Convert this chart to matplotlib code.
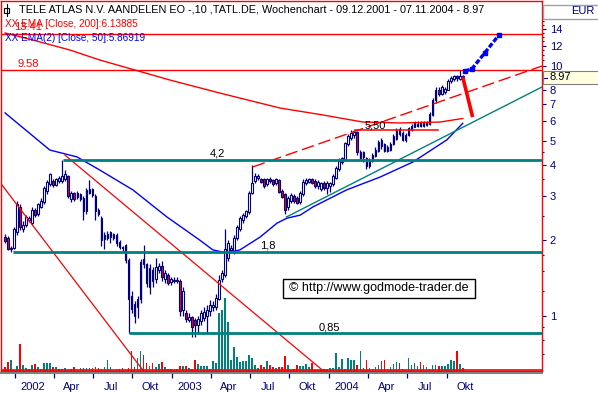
import matplotlib
matplotlib.use('Agg')
import matplotlib.pyplot as plt
import matplotlib.dates as mdates
from matplotlib import font_manager
from matplotlib.ticker import FixedLocator, NullFormatter, FuncFormatter
from matplotlib.patches import Rectangle
from matplotlib.lines import Line2D
import numpy as np
import pandas as pd

plt.rcParams['font.family'] = ['Liberation Sans', 'DejaVu Sans']

# ---------------- data ----------------
start_date = '2001-12-09'
opens = [2.07, 2.05, 1.84, 1.86, 2.15, 2.72, 2.22, 2.30, 2.40, 2.35,
         2.65, 2.54, 2.72, 2.85, 3.15, 3.35, 3.45, 3.34, 3.45, 3.45,
         3.50, 3.60, 2.92, 3.08, 3.10, 2.92, 2.95, 2.62, 3.10, 3.20,
         3.00, 2.65, 2.45, 2.02, 2.05, 2.07, 2.04, 2.10, 1.97, 1.88,
         1.92, 1.67, 1.20, 1.11, 1.08, 1.16, 1.68, 1.60, 1.30, 1.52,
         1.40, 1.52, 1.58, 1.40, 1.45, 1.36, 1.39, 1.37, 1.38, 1.05,
         1.02, 0.96, 0.99, 0.96, 0.92, 0.95, 0.98, 1.00, 1.04, 1.08,
         1.08, 1.16, 1.40, 1.45, 1.70, 1.82, 1.80, 2.05, 2.22, 2.40,
         2.50, 2.60, 3.10, 3.45, 3.55, 3.50, 3.50, 3.35, 3.52, 3.48,
         3.38, 3.48, 3.15, 3.05, 2.72, 2.88, 3.00, 2.95, 2.85, 3.05,
         3.38, 3.42, 3.50, 3.45, 3.30, 3.22, 3.40, 3.25, 3.30, 3.35,
         3.55, 3.85, 4.10, 4.20, 4.85, 5.15, 5.25, 5.40, 4.25, 4.50,
         4.25, 3.95, 4.15, 4.35, 4.55, 5.05, 4.85, 4.55, 4.60, 4.85,
         5.10, 5.55, 5.35, 5.05, 5.25, 5.55, 5.70, 5.75, 5.90, 5.75,
         5.80, 5.85, 6.35, 7.25, 8.00, 7.70, 7.80, 8.00, 8.65, 8.80,
         9.10, 8.85, 9.05]
highs = [2.12, 2.08, 1.90, 2.25, 2.86, 2.78, 2.38, 2.52, 2.50, 2.72,
         2.70, 2.82, 2.95, 3.30, 3.48, 3.72, 3.50, 3.55, 3.62, 4.20,
         3.82, 3.65, 3.15, 3.12, 3.14, 3.10, 3.00, 3.25, 3.48, 3.25,
         3.05, 2.70, 2.50, 2.15, 2.18, 2.18, 2.14, 2.13, 2.00, 1.90,
         1.94, 1.70, 1.25, 1.14, 1.20, 1.68, 1.92, 1.62, 1.60, 1.56,
         1.70, 1.62, 1.65, 1.52, 1.48, 1.43, 1.42, 1.42, 1.40, 1.30,
         1.05, 1.02, 1.00, 0.98, 1.00, 1.05, 1.08, 1.10, 1.15, 1.14,
         1.22, 1.45, 1.52, 2.21, 2.00, 1.92, 2.10, 2.30, 2.50, 2.58,
         2.65, 3.15, 4.00, 3.70, 3.68, 3.55, 3.55, 3.55, 3.58, 3.52,
         3.55, 3.52, 3.20, 3.10, 3.00, 3.08, 3.05, 3.00, 3.15, 3.50,
         3.55, 3.56, 3.55, 3.50, 3.48, 3.42, 3.45, 3.45, 3.42, 3.68,
         3.98, 4.25, 4.30, 4.95, 5.30, 5.50, 5.50, 5.45, 4.60, 4.55,
         4.30, 4.25, 4.45, 4.70, 5.05, 5.15, 4.90, 4.80, 4.95, 5.30,
         5.60, 5.65, 5.45, 5.35, 5.70, 5.85, 6.00, 6.00, 6.00, 5.98,
         6.00, 6.50, 7.40, 8.20, 8.20, 8.35, 8.20, 8.85, 9.05, 9.15,
         9.20, 9.60, 9.20]
lows = [1.95, 1.82, 1.80, 1.84, 2.10, 2.20, 2.15, 2.26, 2.36, 2.30,
        2.48, 2.50, 2.68, 2.80, 3.05, 3.30, 3.28, 3.30, 3.40, 3.40,
        3.45, 2.95, 2.85, 2.88, 2.92, 2.88, 2.40, 2.55, 3.05, 2.98,
        2.40, 2.50, 1.90, 1.85, 2.00, 1.95, 2.00, 1.90, 1.85, 1.80,
        1.62, 0.85, 1.02, 0.93, 0.98, 1.12, 1.55, 1.30, 1.22, 1.30,
        1.35, 1.48, 1.38, 1.35, 1.32, 1.33, 1.35, 1.35, 1.00, 1.00,
        0.94, 0.94, 0.82, 0.82, 0.85, 0.92, 0.95, 0.85, 1.00, 1.04,
        1.05, 1.15, 1.36, 1.42, 1.65, 1.78, 1.76, 2.00, 2.18, 2.35,
        2.45, 2.55, 3.05, 3.40, 3.48, 3.38, 3.25, 3.30, 3.40, 3.30,
        3.32, 3.08, 2.95, 2.55, 2.65, 2.82, 2.82, 2.78, 2.80, 3.00,
        3.32, 3.38, 3.35, 3.25, 3.22, 3.15, 3.18, 3.05, 3.12, 3.30,
        3.50, 3.80, 4.05, 4.15, 4.75, 5.05, 5.15, 4.40, 4.20, 4.10,
        3.85, 3.90, 4.10, 4.30, 4.50, 4.65, 4.50, 4.50, 4.55, 4.80,
        5.05, 5.20, 5.00, 4.95, 5.20, 5.45, 5.65, 5.70, 5.70, 5.68,
        5.72, 5.80, 6.30, 7.10, 7.55, 7.60, 7.70, 7.95, 8.55, 8.70,
        8.70, 8.75, 8.80]
closes = [1.98, 1.84, 1.87, 2.21, 2.80, 2.25, 2.30, 2.47, 2.46, 2.65,
          2.52, 2.78, 2.88, 3.25, 3.42, 3.67, 3.32, 3.50, 3.55, 3.60,
          3.67, 3.00, 3.10, 2.93, 2.98, 3.05, 2.62, 3.18, 3.22, 3.02,
          2.62, 2.55, 2.01, 2.10, 2.12, 2.15, 2.11, 1.95, 1.88, 1.86,
          1.67, 1.16, 1.06, 1.00, 1.16, 1.64, 1.60, 1.35, 1.55, 1.38,
          1.57, 1.58, 1.42, 1.48, 1.35, 1.40, 1.38, 1.39, 1.04, 1.25,
          0.97, 0.99, 0.90, 0.92, 0.97, 1.02, 1.03, 1.05, 1.10, 1.10,
          1.18, 1.39, 1.48, 1.85, 1.95, 1.86, 2.05, 2.25, 2.45, 2.53,
          2.62, 3.10, 3.40, 3.60, 3.62, 3.42, 3.30, 3.50, 3.45, 3.35,
          3.50, 3.12, 2.98, 2.65, 2.95, 3.02, 2.88, 2.82, 3.10, 3.42,
          3.48, 3.50, 3.40, 3.30, 3.42, 3.38, 3.25, 3.40, 3.38, 3.62,
          3.90, 4.15, 4.25, 4.90, 5.20, 5.35, 5.40, 4.50, 4.50, 4.30,
          3.95, 4.15, 4.40, 4.60, 4.95, 4.75, 4.55, 4.70, 4.85, 5.20,
          5.45, 5.30, 5.05, 5.25, 5.60, 5.75, 5.90, 5.85, 5.75, 5.90,
          5.92, 6.40, 7.30, 8.00, 7.70, 8.20, 8.05, 8.70, 8.95, 9.05,
          8.90, 9.10, 8.97]
volumes = [4, 9, 11, 1, 5, 27, 6, 3, 2, 6,
           7, 4, 2, 8, 8, 8, 4, 4, 2, 2,
           3, 1, 2, 4, 1, 3, 3, 3, 3, 3,
           4, 3, 2, 4, 11, 4, 1, 1, 2, 3,
           1, 3, 20, 4, 13, 20, 16, 8, 5, 8,
           4, 7, 9, 4, 2, 2, 1, 2, 5, 5,
           5, 3, 2, 11, 7, 5, 5, 5, 2, 10,
           8, 58, 61, 73, 49, 11, 24, 14, 9, 10,
           10, 16, 13, 6, 3, 6, 4, 10, 6, 4,
           3,
           4, 4, 15, 6, 1, 2, 6, 5, 5, 7,
           4, 8, 1, 1, 1, 2, 2, 3, 3, 18,
           4, 12, 2, 13, 11, 11, 6, 20, 3, 11,
           3, 2, 4, 6, 10, 11, 2, 4, 7, 9,
           8, 2, 1, 13, 6, 8, 5, 9, 6, 4,
           2, 6, 6, 5, 5, 5, 7, 11, 10, 20,
           7, 3]

ema200_dates = ['2001-12-09', '2002-02-11', '2002-05-09', '2002-07-17', '2002-12-27',
                '2003-04-22', '2003-09-09', '2003-12-18', '2004-03-20', '2004-06-14',
                '2004-09-15', '2004-11-07']
ema200_vals = [13.49, 12.65, 11.53, 10.52, 8.75, 7.76, 6.76, 6.34, 5.94, 5.89, 5.94, 6.14]

ema50_dates = ['2001-12-09', '2002-03-23', '2002-05-25', '2002-07-17', '2002-10-02',
               '2002-12-20', '2003-03-07', '2003-04-06', '2003-05-09', '2003-06-08',
               '2003-07-25', '2003-09-02', '2003-09-25', '2003-10-26', '2003-11-25',
               '2004-02-11', '2004-04-29', '2004-07-14', '2004-10-01', '2004-11-07']
ema50_vals = [6.46, 4.59, 4.31, 3.82, 3.18, 2.48, 2.00, 1.83, 1.78, 1.83,
              2.06, 2.34, 2.45, 2.52, 2.72, 3.18, 3.58, 4.11, 5.04, 5.87]

levels = [4.2, 1.8, 0.85]
level_starts = ['2002-04-22', '2001-12-27', '2002-09-23']
level_labels = ['4,2', '1,8', '0,85']
level_label_dates = ['2003-04-16', '2003-08-11', '2004-01-02']

red_levels = [13.41, 9.58]
red_level_labels = ['13.41', '9.58']

res_level = 5.50
res_dates = ['2004-03-01', '2004-09-10']

down_a_dates = ['2001-11-16', '2002-11-10']
down_a_vals = [3.61, 0.557]
down_b_dates = ['2002-04-27', '2004-01-02']
down_b_vals = [4.385, 0.573]
up_dash_dates = ['2003-07-08', '2005-05-10']
up_dash_vals = [3.93, 9.95]
up_teal_dates = ['2003-09-24', '2005-05-10']
up_teal_vals = [2.477, 8.20]

fc_red_dates = ['2004-11-07', '2004-11-30']
fc_red_vals = [9.0, 6.22]
fc_blue_dates = ['2004-11-12', '2004-11-28', '2004-12-28', '2005-01-30']
fc_blue_vals = [9.51, 9.68, 11.22, 13.24]

quarter_starts = ['2002-01-01', '2002-04-01', '2002-07-01', '2002-10-01',
                  '2003-01-01', '2003-04-01', '2003-07-01', '2003-10-01',
                  '2004-01-01', '2004-04-01', '2004-07-01', '2004-10-01']
quarter_labels = ['2002', 'Apr', 'Jul', 'Okt', '2003', 'Apr', 'Jul', 'Okt',
                  '2004', 'Apr', 'Jul', 'Okt']

price_ticks = [1, 2, 3, 4, 5, 6, 7, 8, 10, 12, 14]
minor_ticks = [0.7, 0.8, 0.9, 1.25, 1.5, 1.75, 2.5, 3.5, 4.5, 9, 10.5, 11, 11.5,
               12.5, 13, 13.5, 14.5, 15, 16, 17]
last_price = 8.97

# ---------------- style ----------------
NAVY = '#000080'
RED = '#ff0000'
TEAL = '#008080'
BLUE = '#0000ff'


def has_font(name):
    try:
        font_manager.findfont(font_manager.FontProperties(family=name), fallback_to_default=False)
        return True
    except Exception:
        return False


if has_font('Liberation Sans Narrow'):
    title_family, title_size = ['Liberation Sans Narrow', 'DejaVu Sans'], 9.7
else:
    title_family, title_size = ['Liberation Sans', 'DejaVu Sans'], 7.8

W, H = 598, 395
fig = plt.figure(figsize=(W / 100, H / 100), dpi=100)


def fx(x):
    return x / W


def fy(y):
    return 1 - y / H


ax = fig.add_axes([fx(1), fy(371), 541 / W, 370 / H])
axv = ax.twinx()
axv.set_zorder(ax.get_zorder() - 1)
ax.patch.set_visible(False)

dates = pd.date_range(start_date, periods=len(closes), freq='7D')
d = mdates.date2num(dates)
o = np.array(opens); hi = np.array(highs); lo = np.array(lows); c = np.array(closes)
up = c >= o

x0 = mdates.date2num(pd.Timestamp('2002-01-01'))
ppd = 0.4301  # pixel per day
xmin = x0 + (1 - 15) / ppd
xmax = x0 + (542 - 15) / ppd
ymin = 10 ** ((315.5 - 371) / 250)
ymax = 10 ** ((315.5 - 1) / 250)

ax.set_yscale('log')
ax.set_xlim(xmin, xmax)
ax.set_ylim(ymin, ymax)

# volume
axv.set_ylim(0, 370)
axv.bar(d, volumes, width=4.0, color=np.where(up, TEAL, RED), linewidth=0, zorder=1)
axv.axhline(0.8, color=RED, lw=1.2)
axv.axis('off')

# candles
ax.vlines(d, lo, hi, color=NAVY, lw=0.9, zorder=3)
ax.bar(d, np.abs(c - o), bottom=np.minimum(o, c), width=4.0,
       color=np.where(up, 'white', RED), edgecolor=NAVY, linewidth=0.8, zorder=4)

# EMA lines
ax.plot(mdates.date2num(pd.to_datetime(ema200_dates)), ema200_vals, color=RED, lw=1.0, zorder=5)
ax.plot(mdates.date2num(pd.to_datetime(ema50_dates)), ema50_vals, color=BLUE, lw=1.0, zorder=5)

# trendlines
ax.plot(mdates.date2num(pd.to_datetime(down_a_dates)), down_a_vals, color=RED, lw=0.9, zorder=5)
ax.plot(mdates.date2num(pd.to_datetime(down_b_dates)), down_b_vals, color=RED, lw=0.9, zorder=5)
ax.plot(mdates.date2num(pd.to_datetime(up_dash_dates)), up_dash_vals, color=RED, lw=1.0,
        dashes=(9, 3.5), zorder=5)
ax.plot(mdates.date2num(pd.to_datetime(up_teal_dates)), up_teal_vals, color=TEAL, lw=1.0, zorder=5)

# teal levels
for lv, st, lab, ld in zip(levels, level_starts, level_labels, level_label_dates):
    ax.plot([mdates.date2num(pd.Timestamp(st)), xmax], [lv, lv], color=TEAL, lw=2.0, zorder=6,
            solid_capstyle='butt')
    ax.text(mdates.date2num(pd.Timestamp(ld)), lv * 1.055, lab, ha='center', va='center',
            fontsize=8, color='black', zorder=7)

# red levels
for lv, lab in zip(red_levels, red_level_labels):
    ax.axhline(lv, color=RED, lw=1.0, zorder=5)
    ax.text(mdates.date2num(pd.Timestamp('2002-02-01')), lv * 1.062, lab, ha='center', va='center',
            fontsize=8, color=RED, zorder=7)

# resistance 5.50
ax.plot(mdates.date2num(pd.to_datetime(res_dates)), [res_level, res_level], color=RED, lw=1.1, zorder=5)
ax.text(mdates.date2num(pd.Timestamp('2004-04-18')), res_level * 1.047, '5,50', ha='center',
        va='center', fontsize=8, color='black', zorder=7)

# forecast lines
ax.plot(mdates.date2num(pd.to_datetime(fc_red_dates)), fc_red_vals, color=RED, lw=2.6, zorder=8,
        solid_capstyle='butt')
ax.plot(mdates.date2num(pd.to_datetime(fc_blue_dates)), fc_blue_vals, color=BLUE, lw=2.4,
        dashes=(1.5, 0.6), marker='s', markersize=3.5, zorder=8)

# axes styling
for sp in ax.spines.values():
    sp.set_color(RED)
    sp.set_linewidth(1.0)

ax.yaxis.tick_right()
ax.yaxis.set_major_locator(FixedLocator(price_ticks))
ax.yaxis.set_major_formatter(FuncFormatter(lambda v, _: f'{v:g}'))
ax.yaxis.set_minor_locator(FixedLocator(minor_ticks))
ax.yaxis.set_minor_formatter(NullFormatter())
ax.tick_params(axis='y', which='major', direction='out', length=3, width=0.8, color=NAVY,
               labelcolor=NAVY, labelsize=8, pad=2.5)
ax.tick_params(axis='y', which='minor', direction='out', length=1.2, width=0.8, color=NAVY)

qd = mdates.date2num(pd.to_datetime(quarter_starts))
ax.set_xticks(qd)
ax.set_xticklabels([''] * len(qd))
ax.set_xticks(qd + 42, minor=True)
ax.set_xticklabels(quarter_labels, minor=True)
ax.tick_params(axis='x', which='major', direction='out', length=5, width=0.9, color=NAVY)
ax.tick_params(axis='x', which='minor', length=0, labelsize=8, labelcolor=NAVY, pad=8)

# gray axis line under plot
fig.add_artist(Line2D([fx(0), fx(542)], [fy(372.5), fy(372.5)], color='#808080', lw=1.5))

# header texts
fig.add_artist(Line2D([fx(6.5), fx(6.5)], [fy(4), fy(16)], color='black', lw=0.8))
fig.add_artist(Rectangle((fx(4), fy(12.5)), 5 / W, 5 / H, facecolor='white', edgecolor='black', lw=0.8))
fig.text(fx(19), fy(10), 'TELE ATLAS N.V. AANDELEN EO -,10 ,TATL.DE, Wochenchart - 09.12.2001 - 07.11.2004 - 8.97',
         ha='left', va='center', fontsize=title_size, family=title_family, color='black')
fig.text(fx(5), fy(24), 'XX EMA [Close, 200]:6.13885', ha='left', va='center', fontsize=7.2, color=RED)
fig.text(fx(5), fy(38), 'XX EMA(2) [Close, 50]:5.86919', ha='left', va='center', fontsize=7.2, color=BLUE)

# watermark
fig.add_artist(Rectangle((fx(283), fy(298)), 192 / W, 19 / H, facecolor='white', edgecolor='black', lw=1.0,
                         zorder=10))
fig.text(fx(379), fy(288.5), '\u00a9 http://www.godmode-trader.de', ha='center', va='center',
         fontsize=9, color='black', zorder=11)

# EUR header
fig.add_artist(Rectangle((fx(542.5), fy(19)), 60 / W, 14 / H, facecolor='white', edgecolor='#a0a0a0', lw=1.0))
fig.text(fx(595), fy(11.5), 'EUR', ha='right', va='center', fontsize=8, color=NAVY)

# last price box
fig.add_artist(Rectangle((fx(543), fy(84)), 60 / W, 13 / H, facecolor='#ffffe1', edgecolor='#808080',
                         lw=0.8, zorder=10))
fig.add_artist(Line2D([fx(544), fx(547)], [fy(77.5), fy(77.5)], color=NAVY, lw=0.8, zorder=11))
fig.text(fx(550), fy(77.5), f'{last_price:.2f}', ha='left', va='center', fontsize=8, color='black', zorder=11)

fig.savefig('out.png', dpi=100)
